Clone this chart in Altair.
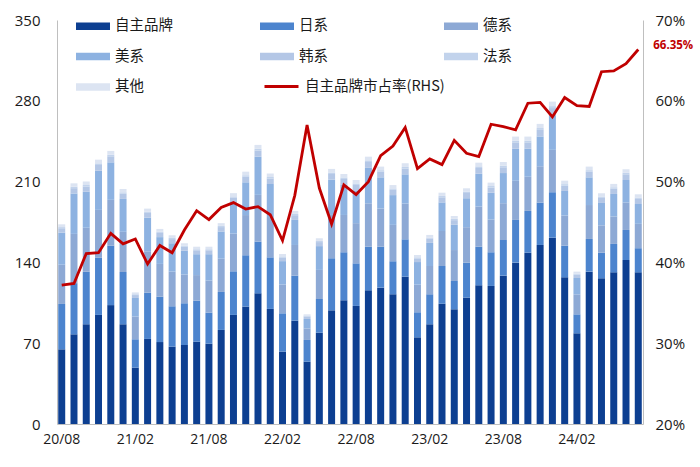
import altair as alt
import pandas as pd

months = ["20/08", "20/09", "20/10", "20/11", "20/12",
          "21/01", "21/02", "21/03", "21/04", "21/05", "21/06", "21/07", "21/08", "21/09", "21/10", "21/11", "21/12",
          "22/01", "22/02", "22/03", "22/04", "22/05", "22/06", "22/07", "22/08", "22/09", "22/10", "22/11", "22/12",
          "23/01", "23/02", "23/03", "23/04", "23/05", "23/06", "23/07", "23/08", "23/09", "23/10", "23/11", "23/12",
          "24/01", "24/02", "24/03", "24/04", "24/05", "24/06", "24/07"]
tick_labels = ["20/08", "21/02", "21/08", "22/02", "22/08", "23/02", "23/08", "24/02"]

series_names = ["自主品牌", "日系", "德系", "美系", "韩系", "法系", "其他"]
series_colors = ["#0D3F91", "#4C84CE", "#8DA9D5", "#8DB2E1", "#B4C7E6", "#C2D3EC", "#DCE4F2"]

own = [64.7, 77.7, 86.4, 94.5, 103.0, 86.4, 48.8, 73.7, 71.0, 67.0, 68.5, 71.3, 69.6, 81.5, 94.5, 101.7, 113.2,
       99.7, 62.7, 89.5, 54.0, 79.1, 98.5, 107.2, 102.3, 115.8, 118.1, 112.4, 127.6,
       75.1, 86.4, 104.2, 99.4, 109.5, 120.2, 119.6, 128.5, 139.8, 148.4, 155.1, 161.4,
       127.1, 78.6, 132.0, 126.2, 131.4, 142.1, 131.4]
japan = [39.3, 44.3, 45.6, 49.5, 51.5, 45.3, 24.6, 40.1, 39.3, 35.0, 36.1, 35.5, 26.9, 32.9, 37.8, 44.5, 44.8,
         44.7, 33.2, 39.0, 18.8, 29.2, 45.1, 41.6, 36.9, 37.8, 35.5, 28.6, 32.4,
         21.7, 26.0, 32.7, 24.5, 30.3, 33.4, 29.2, 30.9, 37.0, 36.2, 36.7, 39.4,
         27.4, 16.4, 28.3, 22.2, 24.6, 26.0, 20.9]
germany = [34.0, 42.7, 38.1, 41.5, 39.7, 34.8, 19.7, 35.8, 28.4, 30.0, 25.0, 22.2, 27.8, 28.8, 32.6, 34.8, 40.5,
           34.9, 24.9, 26.6, 10.0, 25.2, 37.5, 32.3, 34.8, 37.6, 33.1, 31.5, 31.0,
           23.9, 24.5, 30.3, 26.8, 30.7, 34.8, 28.3, 31.9, 33.9, 29.6, 31.5, 36.7,
           26.1, 17.3, 29.4, 23.7, 23.8, 23.8, 21.1]
usa = [27.8, 35.0, 31.1, 33.9, 32.5, 28.5, 16.1, 29.2, 23.2, 24.6, 20.5, 18.1, 22.8, 23.6, 26.7, 28.4, 33.1,
       28.6, 20.3, 21.7, 8.2, 20.6, 30.6, 26.4, 28.4, 30.7, 27.0, 25.8, 25.3,
       19.6, 20.0, 24.8, 21.9, 25.1, 28.4, 23.2, 26.1, 27.8, 24.3, 25.8, 30.1,
       21.3, 14.2, 24.0, 19.4, 19.5, 19.5, 17.2]
korea = [3.8, 4.6, 4.6, 5.0, 5.2, 4.5, 2.5, 4.1, 3.7, 3.6, 3.4, 3.4, 3.4, 3.8, 4.4, 4.8, 5.3,
         4.8, 3.2, 4.1, 2.1, 3.5, 4.9, 4.8, 4.7, 5.1, 4.9, 4.6, 5.0,
         3.2, 3.6, 4.4, 4.0, 4.5, 5.0, 4.6, 5.0, 5.5, 5.5, 5.7, 6.1,
         4.6, 2.9, 4.9, 4.4, 4.6, 4.9, 4.4]
france = [1.0, 1.3, 1.3, 1.4, 1.4, 1.2, 0.7, 1.1, 1.0, 1.0, 0.9, 0.9, 0.9, 1.0, 1.2, 1.3, 1.5,
          1.3, 0.9, 1.1, 0.6, 1.0, 1.3, 1.3, 1.3, 1.4, 1.3, 1.2, 1.4,
          0.9, 1.0, 1.2, 1.1, 1.2, 1.4, 1.3, 1.4, 1.5, 1.5, 1.6, 1.7,
          1.3, 0.8, 1.3, 1.2, 1.2, 1.3, 1.2]
other = [2.4, 2.9, 2.9, 3.2, 3.3, 2.9, 1.6, 2.6, 2.4, 2.3, 2.2, 2.2, 2.2, 2.4, 2.8, 3.1, 3.4,
         3.0, 2.1, 2.6, 1.3, 2.3, 3.1, 3.0, 3.0, 3.2, 3.1, 2.9, 3.2,
         2.0, 2.3, 2.8, 2.5, 2.9, 3.2, 2.9, 3.2, 3.5, 3.5, 3.6, 3.9,
         3.0, 1.8, 3.1, 2.8, 2.9, 3.1, 2.8]
share = [37.2, 37.4, 41.1, 41.2, 43.6, 42.3, 42.9, 39.8, 42.1, 41.2, 44.0, 46.4, 45.3, 46.8, 47.4, 46.6, 46.9,
         45.9, 42.7, 48.3, 57.0, 49.2, 44.75, 49.6, 48.4, 50.0, 53.2, 54.4, 56.7,
         51.6, 52.8, 52.1, 55.1, 53.5, 53.1, 57.1, 56.8, 56.4, 59.7, 59.8, 58.0,
         60.4, 59.4, 59.3, 63.6, 63.7, 64.6, 66.35]
line_name = "自主品牌市占率(RHS)"
end_label = "66.35%"

all_series = [own, japan, germany, usa, korea, france, other]
rows = []
for k, (name, vals) in enumerate(zip(series_names, all_series)):
    for m, v in zip(months, vals):
        rows.append({"month": m, "series": name, "value": v, "idx": k})
bar_df = pd.DataFrame(rows)
line_df = pd.DataFrame({"month": months, "share": share, "name": line_name})
label_df = pd.DataFrame({"month": [months[-1]], "share": [share[-1]], "text": [end_label]})

CJK = "Noto Sans CJK SC"
NUM = "Open Sans"
AX = "#BFBFBF"

x_enc = alt.X("month:N", sort=months, title=None,
              scale=alt.Scale(paddingInner=0.43, paddingOuter=0.1),
              axis=alt.Axis(values=tick_labels, labelAngle=0, ticks=False, domainColor=AX,
                            labelFont=NUM, labelFontSize=14, labelColor="#1A1A1A", labelPadding=8))

bars = alt.Chart(bar_df).mark_bar().encode(
    x=x_enc,
    y=alt.Y("value:Q", stack="zero", title=None, scale=alt.Scale(domain=[0, 350], nice=False),
            axis=alt.Axis(values=[0, 70, 140, 210, 280, 350], grid=False, ticks=False, domainColor=AX,
                          labelFont=NUM, labelFontSize=15, labelColor="#1A1A1A", labelPadding=17)),
    color=alt.Color("series:N", scale=alt.Scale(domain=series_names, range=series_colors),
                    legend=alt.Legend(title=None, orient="none", legendX=19, legendY=-11, columns=3,
                                      direction="horizontal",
                                      gridAlign="all", columnPadding=87, rowPadding=6.5,
                                      symbolType="M-1,-0.22H1V0.22H-1Z", symbolSize=1156,
                                      symbolStrokeWidth=0, labelFont=CJK, labelFontSize=14.5,
                                      labelColor="#1A1A1A", labelOffset=5, padding=0)),
    order=alt.Order("idx:Q", sort="ascending"),
)

line = alt.Chart(line_df).mark_line(strokeWidth=2.8).encode(
    x=x_enc,
    y=alt.Y("share:Q", title=None, scale=alt.Scale(domain=[20, 70], nice=False),
            axis=alt.Axis(orient="right", values=[20, 30, 40, 50, 60, 70], labelExpr="datum.value + '%'",
                          grid=False, ticks=False, domainColor=AX, labelFont=NUM, labelFontSize=15,
                          labelColor="#1A1A1A", labelPadding=12)),
    color=alt.Color("name:N", scale=alt.Scale(domain=[line_name], range=["#C00000"]),
                    legend=alt.Legend(title=None, orient="none", legendX=206, legendY=48,
                                      symbolType="stroke", symbolSize=1156, symbolStrokeWidth=2.8,
                                      labelFont=CJK, labelFontSize=14.5, labelColor="#1A1A1A",
                                      labelOffset=5, padding=0)),
)

label = alt.Chart(label_df).mark_text(align="left", baseline="middle", dx=15, dy=-3, color="#C00000",
                                      fontWeight="bold", fontSize=11.5, font=NUM).encode(
    x=x_enc,
    y=alt.Y("share:Q", scale=alt.Scale(domain=[20, 70], nice=False), axis=None),
    text="text:N",
)

chart = alt.layer(bars, line, label).resolve_scale(y="independent", color="independent").properties(
    width=586, height=404, autosize="none",
    padding={"left": 57, "top": 20, "right": 57, "bottom": 43},
).configure_view(stroke=None)

chart.save("out.html", embed_options={"renderer": "svg", "actions": False})
